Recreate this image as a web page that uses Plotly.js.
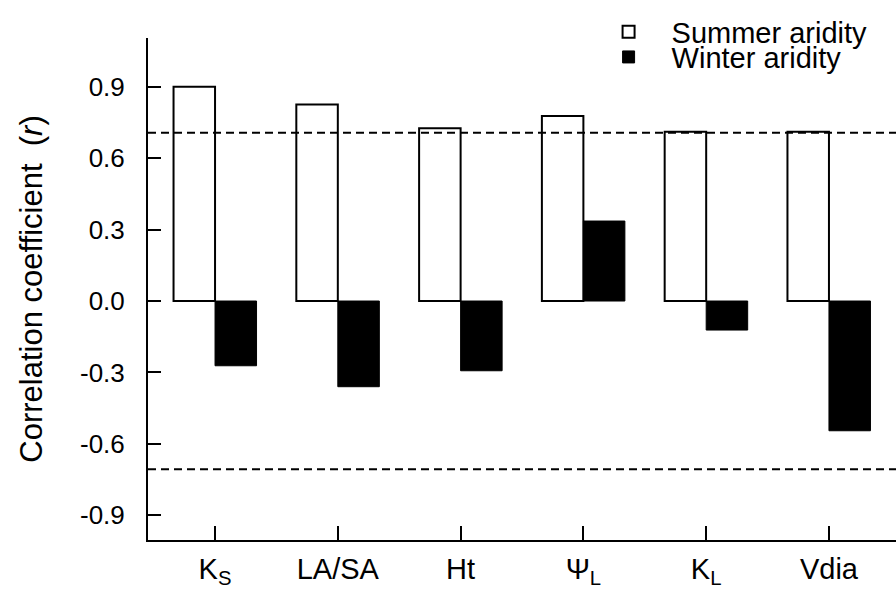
<!DOCTYPE html>
<html>
<head>
<meta charset="utf-8">
<script src="https://cdn.plot.ly/plotly-3.0.1.min.js"></script>
<style>html,body{margin:0;padding:0;background:#fff;}#chart{width:896px;height:595px;}</style>
</head>
<body>
<div id="chart"></div>
<script>
// Data
const categories = ["K<sub>S</sub>", "LA/SA", "Ht", "Ψ<sub>L</sub>", "K<sub>L</sub>", "Vdia"];
const summerAridity = [0.90, 0.826, 0.726, 0.777, 0.711, 0.711];
const winterAridity = [-0.272, -0.360, -0.293, 0.336, -0.122, -0.545];
const yTickVals = [-0.9, -0.6, -0.3, 0.0, 0.3, 0.6, 0.9];
const yTickText = ["-0.9", "-0.6", "-0.3", "0.0", "0.3", "0.6", "0.9"];
const criticalR = 0.707;

const FONT = "Liberation Sans, Arial, sans-serif";

const traces = [
  {
    type: "bar", name: "Summer aridity", x: categories, y: summerAridity, legend: "legend",
    marker: {color: "#ffffff", line: {color: "#000000", width: 2}}
  },
  {
    type: "bar", name: "Winter aridity", x: categories, y: winterAridity, legend: "legend2",
    marker: {color: "#000000", line: {color: "#000000", width: 1}}
  }
];

const legendStyle = (y) => ({
  x: 0.585, y: y, xanchor: "left", yanchor: "middle",
  bgcolor: "rgba(0,0,0,0)", font: {family: FONT, size: 29, color: "#000"},
  borderwidth: 0, itemwidth: 76
});

const layout = {
  width: 896, height: 595,
  margin: {l: 148, r: 0, t: 38, b: 55},
  paper_bgcolor: "#ffffff", plot_bgcolor: "#ffffff",
  font: {family: FONT, color: "#000000", size: 26},
  barmode: "group", bargap: 0.324, bargroupgap: 0,
  showlegend: true,
  legend: legendStyle(1.012),
  legend2: legendStyle(0.962),
  xaxis: {
    type: "category", categoryorder: "array", categoryarray: categories,
    range: [-0.546, 5.546],
    showline: true, linecolor: "#000", linewidth: 2,
    ticks: "inside", ticklen: 14, tickwidth: 2, tickcolor: "#000",
    showgrid: false, zeroline: false,
    tickfont: {family: FONT, size: 29, color: "#000"},
    ticklabelstandoff: 2
  },
  yaxis: {
    range: [-1.004, 1.105],
    showline: true, linecolor: "#000", linewidth: 2,
    ticks: "inside", ticklen: 13, tickwidth: 2, tickcolor: "#000",
    tickvals: yTickVals, ticktext: yTickText,
    showgrid: false, zeroline: false,
    tickfont: {family: FONT, size: 26, color: "#000"},
    ticklabelstandoff: 16,
    title: {text: "Correlation coefficient  (<i>r</i>)", font: {family: FONT, size: 31, color: "#000"}, standoff: 28}
  },
  shapes: [criticalR, -criticalR].map(v => ({
    type: "line", xref: "paper", x0: 0, x1: 1, yref: "y", y0: v, y1: v,
    line: {color: "#000", width: 2, dash: "8px,5px"}, layer: "above"
  }))
};

Plotly.newPlot("chart", traces, layout, {displayModeBar: false, staticPlot: true});
</script>
</body>
</html>
